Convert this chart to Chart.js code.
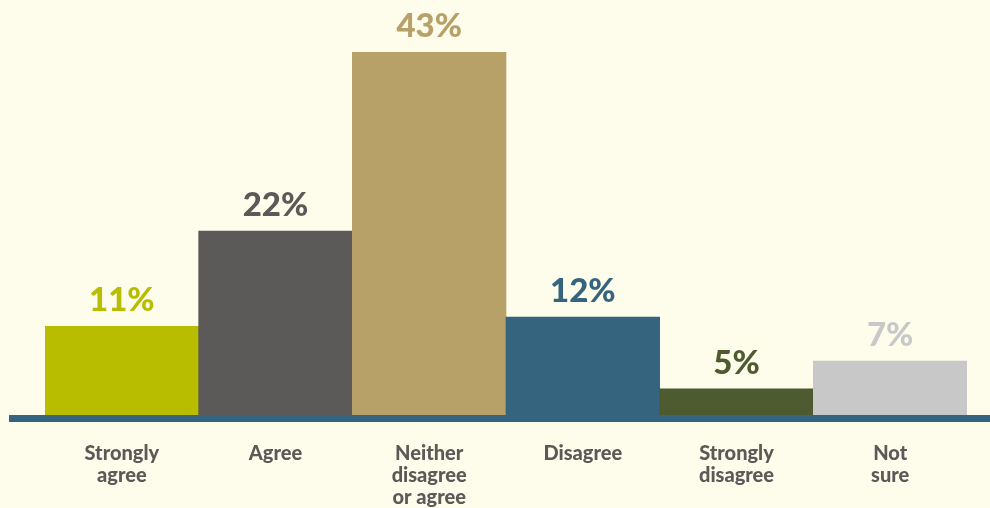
<!DOCTYPE html>
<html>
<head>
<meta charset="utf-8">
<script src="https://cdn.jsdelivr.net/npm/chart.js@4/dist/chart.umd.min.js"></script>
<style>
  html, body { margin: 0; padding: 0; background: #FEFDEC; }
  #wrap { width: 990px; height: 508px; }
</style>
</head>
<body>
<div id="wrap"><canvas id="surveyChart" width="990" height="508"></canvas></div>
<script>
//Categories (multi-line tick labels)
const categories = [
    ["Strongly", "agree"],
    ["Agree"],
    ["Neither", "disagree", "or agree"],
    ["Disagree"],
    ["Strongly", "disagree"],
    ["Not", "sure"]
];

//Bar heights as drawn, and the printed percentages
const barValues = [10.5, 21.8, 43, 11.6, 3.1, 6.4];
const pctLabels = ["11%", "22%", "43%", "12%", "5%", "7%"];

//Colors per bar
const barColors = ["#B8BD00", "#5B5A58", "#B7A169", "#35647E", "#4E5A2F", "#C8C8C8"];

//Draw the percentage above each bar
const valueLabels = {
    id: "valueLabels",
    afterDatasetsDraw(chart) {
        const ctx = chart.ctx;
        const bars = chart.getDatasetMeta(0).data;
        ctx.save();
        ctx.font = "900 33px Lato";
        ctx.textAlign = "center";
        ctx.textBaseline = "alphabetic";
        bars.forEach((bar, i) => {
            ctx.fillStyle = barColors[i];
            ctx.fillText(pctLabels[i], bar.x, bar.y - 15);
        });
        ctx.restore();
    }
};

//Thick baseline under the bars
const baseLine = {
    id: "baseLine",
    afterDraw(chart) {
        const ctx = chart.ctx;
        const y0 = chart.scales.y.getPixelForValue(0);
        ctx.save();
        ctx.fillStyle = "#35647E";
        ctx.fillRect(9, y0, chart.width - 9, 7);
        ctx.restore();
    }
};

const ctx = document.getElementById("surveyChart").getContext("2d");
new Chart(ctx, {
    type: "bar",
    data: {
        labels: categories,
        datasets: [{
            data: barValues,
            backgroundColor: barColors,
            borderWidth: 0,
            barPercentage: 1,
            categoryPercentage: 1
        }]
    },
    options: {
        responsive: false,
        animation: false,
        layout: { padding: { top: 52, left: 45, right: 23, bottom: 0 } },
        plugins: {
            legend: { display: false },
            tooltip: { enabled: false }
        },
        scales: {
            x: {
                grid: { display: false },
                border: { display: false },
                ticks: {
                    color: "#5B5A58",
                    font: { family: "Lato", weight: "900", size: 20, lineHeight: 1.12 },
                    padding: 19,
                    maxRotation: 0,
                    autoSkip: false
                },
                afterFit(scale) { scale.height = 93; }
            },
            y: {
                display: false,
                min: 0,
                max: 43
            }
        }
    },
    plugins: [valueLabels, baseLine]
});
</script>
</body>
</html>
